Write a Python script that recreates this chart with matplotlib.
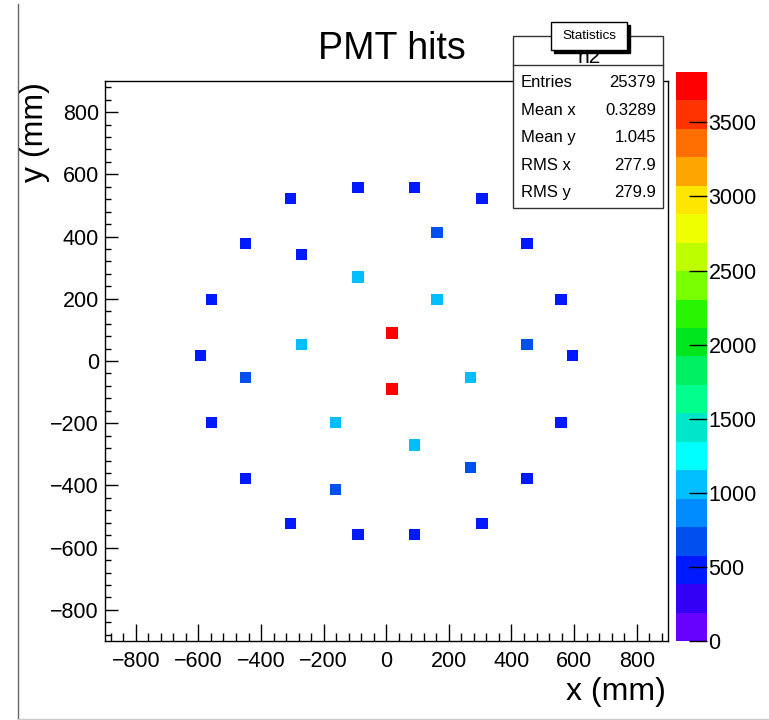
import matplotlib.pyplot as plt
import numpy as np
from matplotlib.colors import ListedColormap, BoundaryNorm
from matplotlib.patches import Rectangle
from matplotlib.lines import Line2D

plt.rcParams['font.family'] = ['Liberation Sans', 'DejaVu Sans']

# PMT positions (mm) and number of hits in each
pmt_x = [-90, 90, -306, 306, 162, -450, 450, -270, -90, -558, 162, 558,
         18, -270, 450, -594, 594, -450, 270, 18, -558, -162, 558, 90,
         270, -450, 450, -162, -306, 306, -90, 90]
pmt_y = [558, 558, 522, 522, 414, 378, 378, 342, 270, 198, 198, 198,
         90, 54, 54, 18, 18, -54, -54, -90, -198, -198, -198, -270,
         -342, -378, -378, -414, -522, -522, -558, -558]
hits = [430, 455, 470, 420, 640, 440, 465, 410, 1010, 450, 1080, 435,
        3790, 1040, 700, 445, 425, 610, 990, 3710, 460, 1060, 440, 1020,
        680, 415, 455, 660, 450, 430, 445, 449]

stat_names = ['Entries', 'Mean x', 'Mean y', 'RMS x', 'RMS y']
stat_values = ['25379', '0.3289', '1.045', '277.9', '279.9']

# palette, 20 levels from bottom to top
palette = ['#6600ff', '#3300f5', '#0019ff', '#0050f0', '#008cff',
           '#00beff', '#00ffff', '#00e6c8', '#00ff8c', '#00f064',
           '#00e61e', '#28f500', '#78ff00', '#beff00', '#f0ff00',
           '#ffe600', '#ffa500', '#ff6e00', '#ff3300', '#ff0000']
zmax = 3840
cmap = ListedColormap(palette)
norm = BoundaryNorm(np.linspace(0, zmax, 21), cmap.N)

W, H = 769, 720
fig = plt.figure(figsize=(W / 100, H / 100), dpi=100)

def fx(p):
    return p / W

def fy(p):
    return 1 - p / H

ax = fig.add_axes([fx(104.5), fy(641), (668 - 104.5) / W, (641 - 81) / H])
h, xe, ye, mesh = ax.hist2d(pmt_x, pmt_y, bins=50, range=[[-900, 900], [-900, 900]],
                            weights=hits, cmap=cmap, norm=norm, cmin=1)
ax.set_xlim(-900, 900)
ax.set_ylim(-900, 900)
ticks = np.arange(-800, 801, 200)
ax.set_xticks(ticks)
ax.set_yticks(ticks)
ax.set_xticks(np.arange(-880, 881, 40), minor=True)
ax.set_yticks(np.arange(-880, 881, 40), minor=True)
ax.tick_params(axis='x', which='major', direction='in', length=12, width=1,
               labelsize=15.5, pad=7, top=False)
ax.tick_params(axis='x', which='minor', direction='in', length=6, width=1, top=False)
ax.tick_params(axis='y', which='major', direction='in', length=9, width=1,
               labelsize=15.5, pad=4, right=False)
ax.tick_params(axis='y', which='minor', direction='in', length=4.5, width=1, right=False)
for s in ax.spines.values():
    s.set_linewidth(1)

# colour scale
cax = fig.add_axes([fx(676), fy(641), 31 / W, (641 - 72) / H])
cb = fig.colorbar(mesh, cax=cax, ticks=np.arange(0, 3501, 500))
cb.outline.set_visible(False)
cax.tick_params(direction='in', length=13, width=1, labelsize=15.5, pad=1)
cax.minorticks_off()

# titles
fig.text(fx(391.5), fy(59), 'PMT hits', ha='center', va='baseline', fontsize=27)
fig.text(fx(666), fy(692), 'x (mm)', ha='right', va='center', fontsize=23)
fig.text(fx(35), fy(82), 'y (mm)', ha='center', va='top', rotation=90, fontsize=23)

# statistics box
tf = fig.transFigure
fig.add_artist(Rectangle((fx(513), fy(208)), 150 / W, 172 / H, transform=tf,
                         facecolor='white', edgecolor='#333333', lw=1, zorder=5))
fig.add_artist(Line2D([fx(513), fx(663)], [fy(65), fy(65)], transform=tf,
                      color='#333333', lw=1, zorder=6))
fig.text(fx(589), fy(63), 'h2', ha='center', va='baseline', fontsize=15, zorder=6)
for i, (name, val) in enumerate(zip(stat_names, stat_values)):
    yb = 87 + i * 27.6
    fig.text(fx(521), fy(yb), name, ha='left', va='baseline', fontsize=12, zorder=6)
    fig.text(fx(656), fy(yb), val, ha='right', va='baseline', fontsize=12, zorder=6)

# "Statistics" label with shadow
fig.add_artist(Rectangle((fx(554), fy(53)), 76 / W, 28 / H, transform=tf,
                         facecolor='black', edgecolor='black', lw=1, zorder=7))
fig.add_artist(Rectangle((fx(551), fy(50)), 76 / W, 28 / H, transform=tf,
                         facecolor='white', edgecolor='black', lw=1, zorder=8))
fig.text(fx(589), fy(36), 'Statistics', ha='center', va='center', fontsize=9.7, zorder=9)

# canvas border
fig.add_artist(Line2D([fx(18), fx(18)], [fy(4), fy(719)], transform=tf,
                      color='#666666', lw=1))
fig.add_artist(Line2D([fx(18), fx(769)], [fy(719), fy(719)], transform=tf,
                      color='#cccccc', lw=1))

fig.savefig('out.png', dpi=100)
